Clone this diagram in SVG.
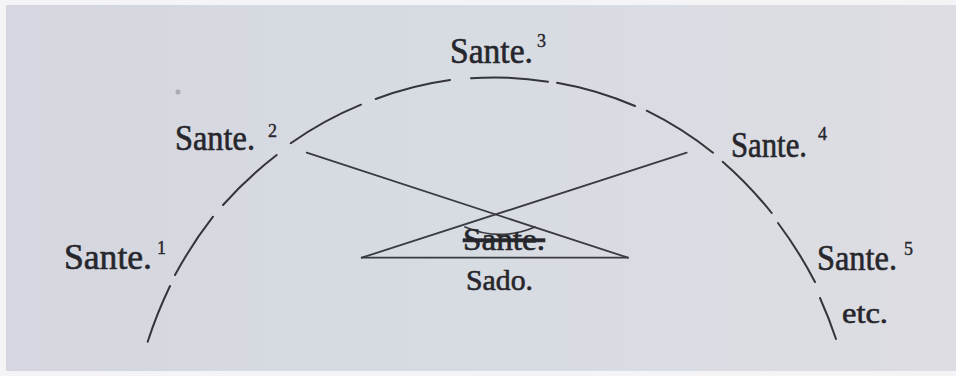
<svg xmlns="http://www.w3.org/2000/svg" width="956" height="376" viewBox="0 0 956 376">
  <defs>
    <linearGradient id="bg" x1="0" y1="0" x2="1" y2="0">
      <stop offset="0" stop-color="#d5d6df"/>
      <stop offset="0.5" stop-color="#d7dce2"/>
      <stop offset="1" stop-color="#dddde3"/>
    </linearGradient>
    <style>
      .lbl { font-family: "Liberation Serif", "Times New Roman", serif; font-size: 35px; fill: #26262c; stroke: #26262c; stroke-width: 0.6; }
      .sup { font-family: "Liberation Serif", "Times New Roman", serif; font-size: 18px; fill: #26262c; stroke: #26262c; stroke-width: 0.4; }
      .arc { fill: none; stroke: #34343a; stroke-width: 2; stroke-linecap: round; }
      .ln { fill: none; stroke: #3a3a40; stroke-width: 1.8; stroke-linecap: round; }
    </style>
  </defs>
  <rect width="956" height="376" fill="#f4f4f6"/>
  <rect x="6" y="5" width="950" height="366" fill="url(#bg)"/>
  <circle cx="178" cy="92" r="2.5" fill="#8e9098" opacity="0.6"/>

  <g id="connectors">
    <g id="dashed-arc">
      <path class="arc" d="M147.7,341.7 A377,422 0 0 1 170,286"/>
      <path class="arc" d="M175,275 A377,422 0 0 1 213,216.7"/>
      <path class="arc" d="M223,205 A377,422 0 0 1 276.7,155"/>
      <path class="arc" d="M290.7,143.3 A377,422 0 0 1 361,104.7"/>
      <path class="arc" d="M375.7,99 A377,422 0 0 1 450,80"/>
      <path class="arc" d="M471,78.3 A377,422 0 0 1 548,81.7"/>
      <path class="arc" d="M557,82.7 A377,422 0 0 1 635,106"/>
      <path class="arc" d="M646.7,110.7 A377,422 0 0 1 713,152.7"/>
      <path class="arc" d="M722.7,161.7 A377,422 0 0 1 771.7,213"/>
      <path class="arc" d="M778,223 A377,422 0 0 1 815,282"/>
      <path class="arc" d="M820,298 A377,422 0 0 1 836,339"/>
    </g>
    <line class="ln" x1="306.7" y1="152.7" x2="628" y2="257.7"/>
    <line class="ln" x1="361.7" y1="257.7" x2="686.7" y2="152.7"/>
    <line class="ln" x1="361.7" y1="257.7" x2="628" y2="257.7"/>
    <path class="ln" d="M465,227 Q500,242 535,227" stroke-width="1.5"/>
  </g>

  <g id="sante1">
    <text class="lbl" x="64" y="269" textLength="88" lengthAdjust="spacingAndGlyphs">Sante.</text>
    <text class="sup" x="157" y="254">1</text>
  </g>
  <g id="sante2">
    <text class="lbl" x="175" y="150" textLength="80" lengthAdjust="spacingAndGlyphs">Sante.</text>
    <text class="sup" x="268" y="137">2</text>
  </g>
  <g id="sante3">
    <text class="lbl" x="450" y="63" textLength="83" lengthAdjust="spacingAndGlyphs">Sante.</text>
    <text class="sup" x="537" y="47">3</text>
  </g>
  <g id="sante4">
    <text class="lbl" x="731" y="157" textLength="76" lengthAdjust="spacingAndGlyphs">Sante.</text>
    <text class="sup" x="818" y="140">4</text>
  </g>
  <g id="sante5">
    <text class="lbl" x="817" y="270" textLength="80" lengthAdjust="spacingAndGlyphs">Sante.</text>
    <text class="sup" x="904" y="255">5</text>
  </g>
  <g id="etc">
    <text class="lbl" x="842" y="323" style="font-size:30px" textLength="46" lengthAdjust="spacingAndGlyphs">etc.</text>
  </g>
  <g id="sante-struck">
    <text class="lbl" x="463" y="250" style="font-size:32px" textLength="82" lengthAdjust="spacingAndGlyphs" text-decoration="line-through">Sante.</text>
  </g>
  <g id="sado">
    <text class="lbl" x="466" y="290" style="font-size:30px" textLength="67" lengthAdjust="spacingAndGlyphs">Sado.</text>
  </g>
</svg>
